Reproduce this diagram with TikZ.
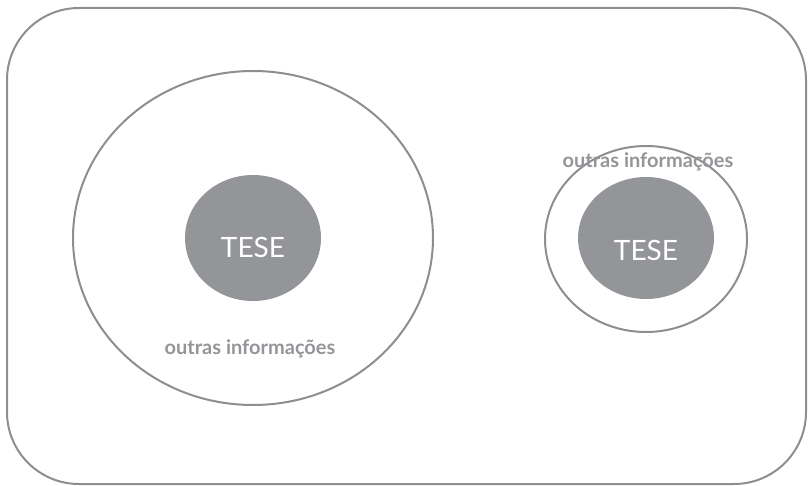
\documentclass[tikz,border=0pt]{standalone}
\usepackage{fontspec}
\setmainfont{Lato}
\definecolor{tesegray}{HTML}{939598}
\definecolor{linegray}{HTML}{8E8E90}
\tikzset{
  ring/.style={draw=linegray, line width=2pt},
  core/.style={fill=tesegray},
  coretext/.style={text=white, font=\fontsize{28}{28}\selectfont},
  infotext/.style={text=tesegray, font=\bfseries\fontsize{20}{20}\selectfont}
}
\begin{document}
\begin{tikzpicture}[x=1pt,y=-1pt]
        \useasboundingbox (0,0) rectangle (808,486);
        \draw [ring, rounded corners=72pt] (7,8) rectangle (806,484);
        % left
        \draw [ring] (253,238) ellipse [x radius=180pt, y radius=167pt];
        \fill [core] (253,238) ellipse [x radius=68pt, y radius=63pt];
        \node [coretext] (teseL) at (253,247) {TESE};
        \node [infotext] (infoL) at (250,349) {outras informações};
        % right
        \draw [ring] (646,239) ellipse [x radius=101pt, y radius=93pt];
        \fill [core] (646,238) ellipse [x radius=68pt, y radius=61pt];
        \node [coretext] (teseR) at (646,250) {TESE};
        \node [infotext] (infoR) at (648,162) {outras informações};
      \end{tikzpicture}
\end{document}
